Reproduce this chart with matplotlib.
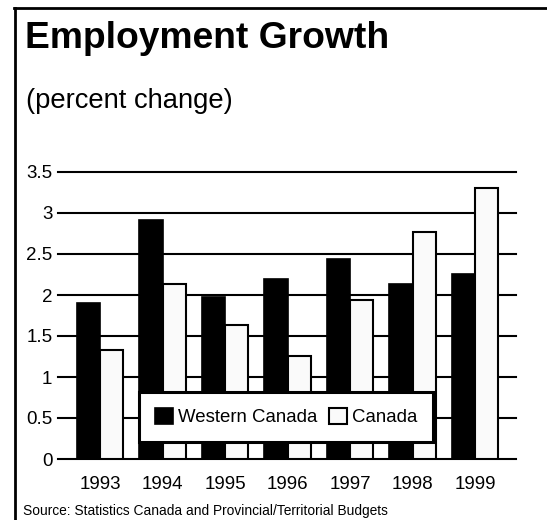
import numpy as np
import matplotlib
matplotlib.use("Agg")
import matplotlib.pyplot as plt
from matplotlib.lines import Line2D

plt.rcParams['font.family'] = ['Liberation Sans', 'DejaVu Sans']

years = ["1993", "1994", "1995", "1996", "1997", "1998", "1999"]
western = [1.90, 2.92, 1.97, 2.19, 2.44, 2.14, 2.26]
canada = [1.33, 2.13, 1.63, 1.26, 1.94, 2.77, 3.30]
yticks = [0, 0.5, 1, 1.5, 2, 2.5, 3, 3.5]
ylabels = ["0", "0.5", "1", "1.5", "2", "2.5", "3", "3.5"]

W, H = 547, 520
fig = plt.figure(figsize=(W / 100, H / 100), dpi=100)
fig.patch.set_facecolor("white")

# outer frame: top and left edges only
fig.add_artist(Line2D([14 / W, 1.0], [1 - 8 / H, 1 - 8 / H], transform=fig.transFigure,
                      color="black", lw=2.0, solid_capstyle="projecting"))
fig.add_artist(Line2D([15 / W, 15 / W], [0.0, 1 - 8 / H], transform=fig.transFigure,
                      color="black", lw=2.0, solid_capstyle="projecting"))

fig.text(25 / W, 1 - 48 / H, "Employment Growth", fontsize=26.8, fontweight="bold",
         ha="left", va="baseline")
fig.text(26 / W, 1 - 108 / H, "(percent change)", fontsize=19.7, ha="left", va="baseline")
fig.text(23 / W, 1 - 515 / H, "Source: Statistics Canada and Provincial/Territorial Budgets",
         fontsize=9.9, ha="left", va="baseline")

ax = fig.add_axes([58 / W, 61 / H, (516 - 58) / W, (459 - 172) / H])
x = np.arange(len(years))
w = 0.375
ax.bar(x - w / 2, western, width=w, color="black", edgecolor="black", lw=1.2,
       label="Western Canada", zorder=3)
ax.bar(x + w / 2, canada, width=w, color="#fafafa", edgecolor="black", lw=1.5,
       label="Canada", zorder=3)

ax.set_xlim(-0.672, 6.656)
ax.set_ylim(0, 3.5)
ax.set_yticks(yticks)
ax.set_yticklabels(ylabels)
ax.set_xticks(x)
ax.set_xticklabels(years)
ax.tick_params(axis="y", length=0, pad=4, labelsize=13.5)
ax.tick_params(axis="x", length=0, pad=12, labelsize=13.5)
for s in ax.spines.values():
    s.set_visible(False)
ax.yaxis.grid(True, color="black", lw=1.5)
ax.set_axisbelow(True)
for gl in ax.get_ygridlines():
    gl.set_clip_on(False)

leg = ax.legend(loc="center", bbox_to_anchor=(286 / W, 1 - 417 / H),
                bbox_transform=fig.transFigure, ncol=2, fontsize=13.4,
                frameon=True, fancybox=False, framealpha=1, facecolor="white",
                edgecolor="black", borderpad=0.85, handlelength=1.0, handleheight=1.0,
                handletextpad=0.25, columnspacing=0.6, borderaxespad=0)
leg.get_frame().set_linewidth(2.2)

fig.savefig("out.png", dpi=100, facecolor="white")
